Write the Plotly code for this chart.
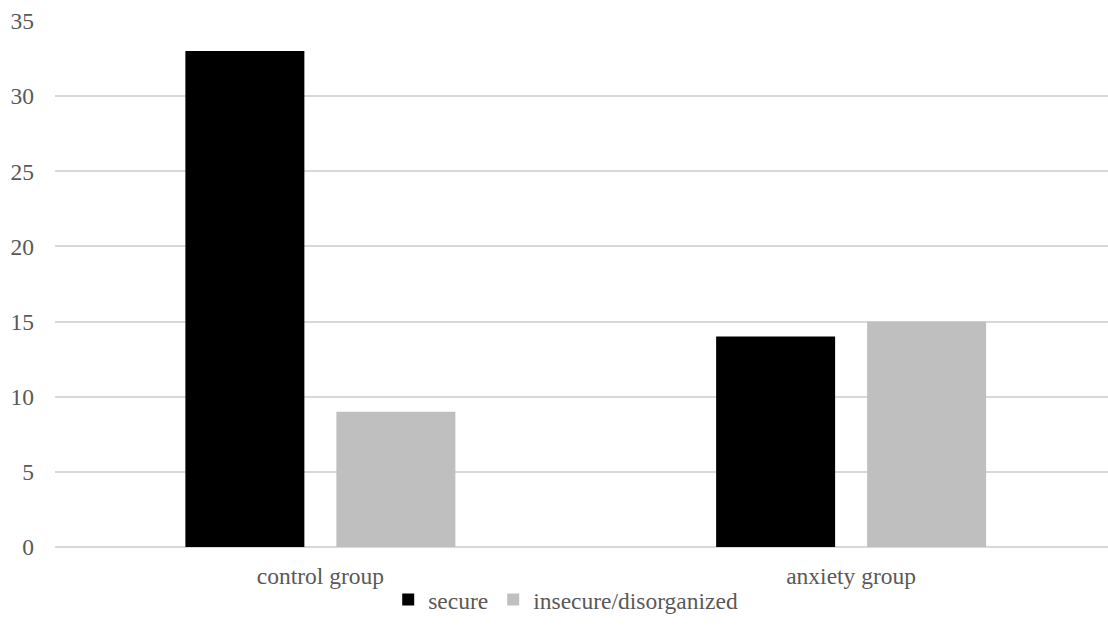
import plotly.graph_objects as go

# Attachment classification counts per study group
groups = ["control group", "anxiety group"]
secure = [33, 14]
insecure = [9, 15]
y_ticks = [0, 5, 10, 15, 20, 25, 30, 35]

font_family = "'Times New Roman', 'Liberation Serif', 'DejaVu Serif', serif"
text_color = "#595959"

fig = go.Figure()
fig.add_trace(go.Bar(name="secure", x=groups, y=secure,
                     marker=dict(color="#000000", line=dict(width=0))))
fig.add_trace(go.Bar(name="insecure/disorganized", x=groups, y=insecure,
                     marker=dict(color="#bfbfbf", line=dict(width=0))))

fig.update_layout(
    width=1108, height=640,
    margin=dict(l=55, r=0, t=21, b=93),
    paper_bgcolor="white", plot_bgcolor="white",
    barmode="group", bargap=0.431, bargroupgap=0.212,
    font=dict(family=font_family, size=23.5, color=text_color),
    showlegend=True,
    legend=dict(orientation="h", x=0.485, xanchor="center", y=-0.1, yanchor="middle",
                font=dict(family=font_family, size=23.5, color=text_color),
                itemwidth=30, traceorder="normal"),
)
fig.update_xaxes(
    type="category", range=[-0.5, 1.484],
    showgrid=False, showline=False, ticks="", zeroline=False,
    ticklabelstandoff=12,
    tickfont=dict(family=font_family, size=23.5, color=text_color),
)
fig.update_yaxes(
    range=[0, 35], tickvals=y_ticks, ticktext=[str(v) for v in y_ticks],
    showgrid=True, gridcolor="#d9d9d9", gridwidth=1.5,
    zeroline=True, zerolinecolor="#d9d9d9", zerolinewidth=1.5,
    showline=False, ticks="", ticklabelstandoff=20,
    tickfont=dict(family=font_family, size=23.5, color=text_color),
)

fig.write_html("out.html")
